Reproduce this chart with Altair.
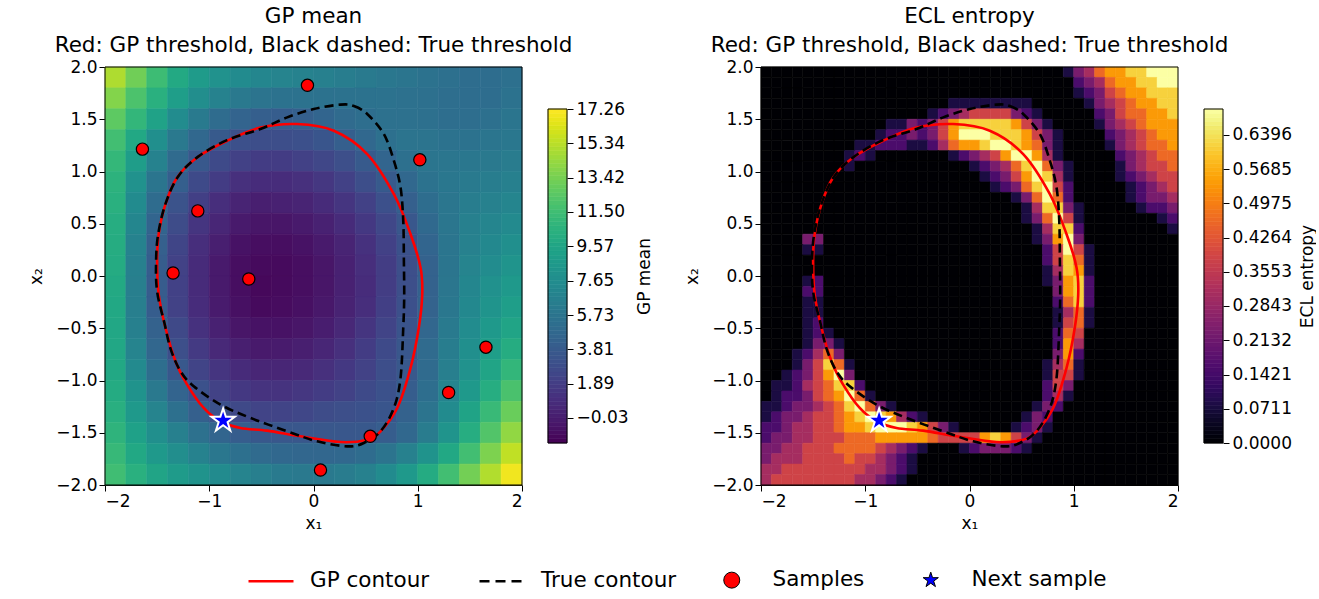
import altair as alt
import numpy as np
import pandas as pd

FONT = "DejaVu Sans"
MINUS = "replace(datum.label, '-', '\u2212')"

# ---------------- data ----------------
# GP threshold contour (red), clockwise from the top
GP_X = [-0.157, 0.195, 0.515, 0.771, 0.931, 1.027, 1.043, 1.010, 0.931, 0.803, 0.643, 0.515,
        0.259, -0.125, -0.445, -0.700, -0.893, -1.053, -1.212, -1.324, -1.420, -1.485, -1.500,
        -1.485, -1.420, -1.308, -1.116, -0.828, -0.509]
GP_Y = [1.454, 1.390, 1.167, 0.783, 0.400, 0.080, -0.176, -0.495, -0.879, -1.263, -1.486, -1.566,
        -1.589, -1.534, -1.480, -1.454, -1.390, -1.263, -1.039, -0.815, -0.495, -0.176, 0.144,
        0.400, 0.687, 0.943, 1.134, 1.294, 1.420]

# true threshold contour (black dashed)
TRUE_X = [0.259, 0.387, 0.515, 0.675, 0.771, 0.835, 0.861, 0.867, 0.870, 0.861, 0.835, 0.771,
          0.643, 0.483, 0.323, 0.035, -0.252, -0.605, -0.893, -1.149, -1.276, -1.370, -1.430,
          -1.500, -1.510, -1.490, -1.420, -1.300, -1.110, -0.830, -0.509, -0.252, 0.003]
TRUE_Y = [1.640, 1.627, 1.550, 1.358, 1.103, 0.847, 0.527, 0.144, -0.200, -0.495, -0.975, -1.263,
          -1.486, -1.598, -1.630, -1.582, -1.486, -1.358, -1.230, -1.055, -0.911, -0.700, -0.450,
          -0.150, 0.140, 0.400, 0.690, 0.950, 1.140, 1.300, 1.406, 1.518, 1.598]

SAMPLE_X = [-0.058, -1.641, 1.020, -1.110, -1.347, -0.621, 1.654, 1.296, 0.544, 0.067]
SAMPLE_Y = [1.825, 1.214, 1.112, 0.623, 0.029, -0.029, -0.681, -1.115, -1.534, -1.857]
NEXT_X = [-0.867]
NEXT_Y = [-1.384]

# GP mean field, 0.2 cells, rows from top (y=1.9) to bottom, columns x=-1.9..1.9
GP_MEAN_ROWS = [
    [15.0, 13.2, 11.4, 9.9, 8.8, 8.0, 7.5, 7.1, 6.9, 6.8, 6.6, 6.4, 6.2, 6.0, 5.8, 5.6, 5.4, 5.2, 5.2, 5.4],
    [13.8, 12.0, 10.4, 9.0, 7.7, 6.8, 6.1, 5.7, 5.6, 5.6, 5.6, 5.6, 5.6, 5.6, 5.5, 5.4, 5.3, 5.2, 5.2, 5.6],
    [12.6, 10.9, 9.3, 7.6, 6.2, 5.1, 4.5, 4.1, 4.0, 4.2, 4.6, 5.0, 5.3, 5.5, 5.5, 5.4, 5.3, 5.3, 5.4, 5.8],
    [11.6, 9.8, 7.8, 6.1, 4.8, 3.8, 3.1, 2.9, 2.9, 3.1, 3.5, 4.1, 4.8, 5.4, 5.7, 5.7, 5.6, 5.6, 5.8, 6.0],
    [11.0, 8.9, 6.8, 5.0, 3.7, 2.7, 2.1, 1.8, 1.8, 2.1, 2.5, 3.0, 3.8, 4.6, 5.4, 5.8, 5.9, 6.0, 6.1, 6.3],
    [10.6, 8.0, 5.8, 4.1, 2.7, 1.8, 1.1, 0.9, 0.9, 1.1, 1.5, 2.1, 2.9, 3.8, 4.8, 5.6, 6.0, 6.2, 6.4, 6.6],
    [10.4, 7.5, 5.1, 3.3, 2.0, 1.0, 0.4, 0.1, 0.2, 0.4, 0.8, 1.4, 2.1, 3.1, 4.2, 5.2, 5.9, 6.4, 6.7, 7.0],
    [10.2, 7.1, 4.6, 2.8, 1.4, 0.5, -0.2, -0.4, -0.4, -0.2, 0.2, 0.8, 1.6, 2.5, 3.6, 4.9, 5.9, 6.6, 7.0, 7.4],
    [10.1, 6.8, 4.2, 2.4, 1.0, 0.1, -0.6, -0.8, -0.8, -0.6, -0.2, 0.4, 1.2, 2.1, 3.2, 4.6, 5.8, 6.7, 7.3, 7.8],
    [10.0, 6.6, 4.0, 2.2, 0.8, -0.2, -0.8, -1.0, -1.0, -0.8, -0.4, 0.2, 1.0, 1.9, 3.0, 4.3, 5.8, 6.9, 7.6, 8.2],
    [9.9, 6.5, 3.9, 2.1, 0.8, -0.2, -0.8, -1.1, -1.0, -0.8, -0.4, 0.2, 0.9, 1.9, 3.0, 4.3, 5.9, 7.1, 7.9, 8.6],
    [9.8, 6.5, 4.0, 2.2, 0.9, -0.1, -0.7, -1.0, -0.9, -0.7, -0.3, 0.3, 1.0, 2.0, 3.1, 4.4, 6.0, 7.3, 8.2, 9.0],
    [9.7, 6.6, 4.3, 2.6, 1.2, 0.2, -0.4, -0.6, -0.6, -0.4, 0.0, 0.6, 1.4, 2.3, 3.4, 4.7, 6.2, 7.6, 8.6, 9.5],
    [9.7, 6.9, 4.7, 3.0, 1.7, 0.7, 0.1, -0.2, -0.1, 0.1, 0.5, 1.1, 1.8, 2.7, 3.6, 5.0, 6.4, 7.8, 9.0, 10.1],
    [9.8, 7.4, 5.3, 3.7, 2.3, 1.4, 0.8, 0.5, 0.5, 0.7, 1.1, 1.6, 2.2, 2.9, 3.7, 5.0, 6.5, 8.0, 9.5, 10.9],
    [10.0, 8.1, 6.1, 4.5, 3.2, 2.2, 1.6, 1.3, 1.3, 1.5, 1.8, 2.2, 2.7, 3.2, 4.0, 5.3, 6.9, 8.6, 10.2, 11.9],
    [10.3, 8.6, 6.9, 5.4, 4.2, 3.2, 2.6, 2.3, 2.3, 2.5, 2.8, 3.0, 3.2, 3.5, 4.3, 5.7, 7.5, 9.4, 11.2, 13.0],
    [10.7, 9.2, 7.8, 6.6, 5.5, 4.6, 4.0, 3.7, 3.6, 3.6, 3.6, 3.6, 3.7, 4.0, 4.8, 6.3, 8.2, 10.2, 12.2, 14.2],
    [11.1, 9.8, 8.6, 7.7, 6.8, 6.0, 5.4, 5.0, 4.8, 4.7, 4.7, 4.8, 5.1, 5.7, 6.7, 8.1, 9.8, 11.6, 13.6, 15.5],
    [11.5, 10.4, 9.5, 8.8, 8.1, 7.5, 6.9, 6.5, 6.2, 6.1, 6.1, 6.3, 6.7, 7.5, 8.6, 10.0, 11.6, 13.3, 15.1, 16.9],
]
GP_CELL = 0.2

# ECL entropy field, 0.1 cells, level digit 0..9 (9 = ln 2), rows from top
ECL_ROWS = [
    "0" * 28 + "013467788999",
    "0" * 29 + "02346778899",
    "0" * 30 + "1235677888",
    "0" * 18 + "11111111" + "0" * 5 + "134567788",
    "0" * 16 + "12345555321" + "0" * 5 + "23566778",
    "0" * 12 + "1132357888887531" + "0" * 4 + "13456777",
    "0" * 11 + "122323579998887531" + "0" * 4 + "2345677",
    "0" * 9 + "11222112467789987631" + "0" * 4 + "1345667",
    "0" * 8 + "121" + "0" * 7 + "12345799741" + "0" * 5 + "234566",
    "0" * 8 + "1" + "0" * 11 + "1234689631" + "0" * 4 + "134556",
    "0" * 21 + "123579841" + "0" * 4 + "123455",
    "0" * 22 + "12368952" + "0" * 5 + "12345",
    "0" * 24 + "136962" + "0" * 5 + "12334",
    "0" * 25 + "148831" + "0" * 5 + "1223",
    "0" * 25 + "136951" + "0" * 7 + "12",
    "0" * 26 + "14882" + "0" * 8 + "1",
    "0" * 4 + "33" + "0" * 20 + "13793" + "0" * 9,
    "0" * 4 + "11" + "0" * 21 + "25951" + "0" * 8,
    "0" * 27 + "25861" + "0" * 8,
    "0" * 27 + "14871" + "0" * 8,
    "0" * 4 + "12" + "0" * 21 + "13782" + "0" * 8,
    "0" * 4 + "22" + "0" * 22 + "3782" + "0" * 8,
    "0" * 4 + "11" + "0" * 22 + "2682" + "0" * 8,
    "0" * 4 + "11" + "0" * 22 + "1461" + "0" * 8,
    "0" * 4 + "12" + "0" * 22 + "1561" + "0" * 8,
    "0" * 4 + "121" + "0" * 21 + "2650" + "0" * 8,
    "0" * 4 + "1331" + "0" * 20 + "274" + "0" * 9,
    "0" * 3 + "12463" + "0" * 20 + "372" + "0" * 9,
    "0" * 3 + "135861" + "0" * 18 + "1461" + "0" * 9,
    "0" * 2 + "1235793" + "0" * 18 + "1551" + "0" * 9,
    "0" + "112456882" + "0" * 17 + "253" + "0" * 10,
    "01223567961" + "0" * 16 + "241" + "0" * 10,
    "1123345689631" + "0" * 13 + "132" + "0" * 11,
    "1233455678987421" + "0" * 9 + "132" + "0" * 12,
    "2234455677899987531" + "0" * 5 + "1231" + "0" * 12,
    "233445556667777765555787531" + "0" * 13,
    "33445556666543210001233321" + "0" * 14,
    "3444555565543210" + "0" * 24,
    "4455555555443210" + "0" * 24,
    "45555555544321" + "0" * 26,
]
ECL_CELL = 0.1
ECL_MAX = 0.6931

GP_RANGE = [-1.43, 17.26]
ECL_RANGE = [0.0, 0.6931]
GP_TICKS = [-0.03, 1.89, 3.81, 5.73, 7.65, 9.57, 11.50, 13.42, 15.34, 17.26]
ECL_TICKS = [0.0, 0.0711, 0.1421, 0.2132, 0.2843, 0.3553, 0.4264, 0.4975, 0.5685, 0.6396]
XTICKS = [-2, -1, 0, 1, 2]
YTICKS = [-2.0, -1.5, -1.0, -0.5, 0.0, 0.5, 1.0, 1.5, 2.0]
LIMITS = [-2.0, 2.0]

TITLE_SUB = "Red: GP threshold, Black dashed: True threshold"
LEG_LINES = ["GP contour", "True contour"]
LEG_MARKS = ["Samples", "Next sample"]

STAR = ("M0,-1L0.2245,-0.309L0.951,-0.309L0.3633,0.118L0.5878,0.809L0,0.382"
        "L-0.5878,0.809L-0.3633,0.118L-0.951,-0.309L-0.2245,-0.309Z")

PW, PH = 417, 418
CB_W = 19          # colour bar thickness
CB_BOX = 187       # width reserved for the first colour bar and its labels


# ---------------- tables ----------------
def grid_table(rows, cell, conv):
    recs = []
    for i, row in enumerate(rows):
        for j, v in enumerate(row):
            x0 = LIMITS[0] + cell * j
            y1 = LIMITS[1] - cell * i
            recs.append({"x0": x0, "x1": x0 + cell, "y0": y1 - cell, "y1": y1, "v": conv(v)})
    return pd.DataFrame(recs)


gp_grid = grid_table(GP_MEAN_ROWS, GP_CELL, float)
ecl_grid = grid_table([r.ljust(40, "0")[:40] for r in ECL_ROWS], ECL_CELL,
                      lambda c: int(c) / 9.0 * ECL_MAX)

gp_df = pd.DataFrame({"x": GP_X, "y": GP_Y, "i": range(len(GP_X))})
true_df = pd.DataFrame({"x": TRUE_X, "y": TRUE_Y, "i": range(len(TRUE_X))})
samp_df = pd.DataFrame({"x": SAMPLE_X, "y": SAMPLE_Y})
next_df = pd.DataFrame({"x": NEXT_X, "y": NEXT_Y})
frame_df = pd.DataFrame({"a": [LIMITS[0]], "b": [LIMITS[1]]})

# ---------------- encodings ----------------
xs = alt.Scale(domain=LIMITS, nice=False, zero=False)
ys = alt.Scale(domain=LIMITS, nice=False, zero=False)
x_axis = alt.Axis(values=XTICKS, format="d", labelExpr=MINUS, title="x\u2081", titlePadding=6)
y_axis = alt.Axis(values=YTICKS, format=".1f", labelExpr=MINUS, title="x\u2082", titlePadding=10)


def X(f):
    return alt.X(f, type="quantitative", scale=xs, axis=x_axis)


def Y(f):
    return alt.Y(f, type="quantitative", scale=ys, axis=y_axis)


def heat(df, scheme, dom):
    sc = alt.Scale(scheme=scheme, domain=dom, clamp=True)
    return alt.Chart(df).mark_rect(strokeWidth=0.6).encode(
        x=X("x0"), x2="x1", y=Y("y0"), y2="y1",
        fill=alt.Fill("v:Q", scale=sc, legend=None),
        stroke=alt.Stroke("v:Q", scale=sc, legend=None),
    )


gp_line = alt.Chart(gp_df).mark_line(color="red", strokeWidth=2.6, interpolate="cardinal-closed").encode(
    x=X("x"), y=Y("y"), order=alt.Order("i:Q"))
true_line = alt.Chart(true_df).mark_line(color="black", strokeWidth=2.6, strokeDash=[9, 5],
                                         interpolate="cardinal-closed").encode(
    x=X("x"), y=Y("y"), order=alt.Order("i:Q"))
samples = alt.Chart(samp_df).mark_point(shape="circle", filled=True, fill="red", stroke="black",
                                        strokeWidth=1.2, size=150, opacity=1).encode(x=X("x"), y=Y("y"))
nxt = alt.Chart(next_df).mark_point(shape=STAR, filled=True, fill="blue", stroke="white",
                                    strokeWidth=2, size=600, opacity=1).encode(x=X("x"), y=Y("y"))
frame = alt.Chart(frame_df).mark_rect(fillOpacity=0, stroke="black", strokeWidth=1).encode(
    x=X("a"), x2="b", y=Y("a"), y2="b")

L1 = alt.Legend(title=None, orient="none", legendX=142, legendY=490, direction="horizontal",
                symbolType="stroke", symbolSize=2025, symbolStrokeWidth=2.6, labelFontSize=21.5,
                labelFont=FONT, labelColor="black", labelOffset=15, columnPadding=44, padding=0)
L2 = alt.Legend(title=None, orient="none", legendX=616, legendY=502, direction="horizontal",
                symbolSize=256, symbolStrokeWidth=1, symbolStrokeColor="black", symbolFillColor="red",
                labelFontSize=21.5, labelFont=FONT,
                labelColor="black", labelOffset=30, columnPadding=55, padding=0)

leg_lines = alt.Chart(pd.DataFrame({"item": LEG_LINES})).mark_point(
    opacity=0, filled=False, shape="stroke").encode(
    stroke=alt.Stroke("item:N", scale=alt.Scale(domain=LEG_LINES, range=["red", "black"]), legend=L1),
    strokeDash=alt.StrokeDash("item:N", scale=alt.Scale(domain=LEG_LINES, range=[[1, 0], [10, 6]]),
                              legend=L1),
)
leg_marks = alt.Chart(pd.DataFrame({"item2": LEG_MARKS})).mark_point(opacity=0, filled=True).encode(
    color=alt.Color("item2:N", scale=alt.Scale(domain=LEG_MARKS, range=["red", "blue"]), legend=L2),
    shape=alt.Shape("item2:N", scale=alt.Scale(domain=LEG_MARKS, range=["circle", STAR]), legend=L2),
)

INDEP = dict(fill="independent", stroke="independent", strokeDash="independent", shape="independent",
             color="independent")


def ptitle(t):
    return alt.TitleParams(text=[t, TITLE_SUB], fontSize=21.5, fontWeight="normal", font=FONT,
                           color="black", anchor="middle", offset=2, lineHeight=29)


left = alt.layer(heat(gp_grid, "viridis", GP_RANGE), gp_line, true_line, samples, nxt, frame,
                 leg_lines, leg_marks).resolve_scale(**INDEP).properties(
    width=PW, height=PH, title=ptitle("GP mean"))

right = alt.layer(heat(ecl_grid, "inferno", ECL_RANGE), gp_line, true_line, nxt, frame).resolve_scale(
    **INDEP).properties(width=PW, height=PH, title=ptitle("ECL entropy"))


def colorbar(rng, scheme, ticks, fmt, title, box_w):
    vmin, vmax = rng
    edges = np.linspace(vmin, vmax, 81)
    df = pd.DataFrame({"lo": edges[:-1], "hi": edges[1:], "mid": (edges[:-1] + edges[1:]) / 2})
    ext = (vmax - vmin) / 334.0 * 42.0
    cs = alt.Scale(domain=[vmin - ext, vmax + ext], nice=False, zero=False)
    sc = alt.Scale(scheme=scheme, domain=rng)
    ax = alt.Axis(orient="right", values=ticks, format=fmt, labelExpr=MINUS, title=title,
                  domain=False, titleAngle=270, titleBaseline="top", titlePadding=8, labelPadding=3,
                  offset=-(box_w - CB_W))
    bars = alt.Chart(df).mark_rect(strokeWidth=0.6).encode(
        x=alt.value(0), x2=alt.value(CB_W),
        y=alt.Y("lo:Q", scale=cs, axis=ax), y2="hi",
        fill=alt.Fill("mid:Q", scale=sc, legend=None),
        stroke=alt.Stroke("mid:Q", scale=sc, legend=None),
    )
    box = alt.Chart(pd.DataFrame({"lo": [vmin], "hi": [vmax]})).mark_rect(
        fillOpacity=0, stroke="black", strokeWidth=1).encode(
        x=alt.value(0), x2=alt.value(CB_W),
        y=alt.Y("lo:Q", scale=cs, axis=ax), y2="hi")
    return alt.layer(bars, box).resolve_scale(**INDEP).properties(width=box_w, height=PH)


cb1 = colorbar(GP_RANGE, "viridis", GP_TICKS, ".2f", "GP mean", CB_BOX)
cb2 = colorbar(ECL_RANGE, "inferno", ECL_TICKS, ".4f", "ECL entropy", CB_W)

chart = alt.hconcat(left, cb1, right, cb2, spacing=26, bounds="flush").resolve_scale(
    **INDEP).properties(
    padding={"left": 27, "top": 5, "right": 0, "bottom": 0}
).configure(font=FONT).configure_view(strokeWidth=0).configure_axis(
    labelFontSize=17, titleFontSize=17, labelColor="black", titleColor="black", tickColor="black",
    domainColor="black", tickSize=6, labelPadding=2, titleFontWeight="normal", labelFont=FONT,
    titleFont=FONT, grid=False, domainWidth=1, tickWidth=1
)

chart.save("out.html", embed_options={"renderer": "svg", "actions": False})
